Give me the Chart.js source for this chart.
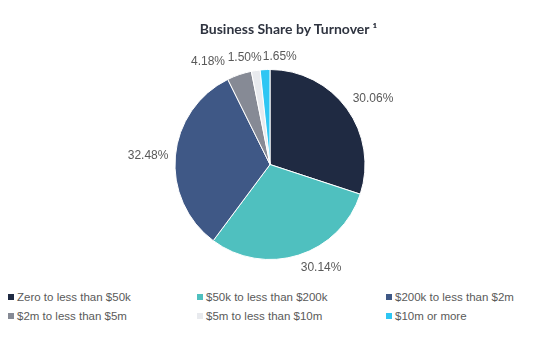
<!DOCTYPE html>
<html>
<head>
<meta charset="utf-8">
<script src="https://cdn.jsdelivr.net/npm/chart.js@4"></script>
<style>
  body { margin: 0; background: #fff; }
  #wrap { position: relative; width: 543px; height: 344px; }
  #box { position: absolute; left: 0; top: 0; width: 543px; height: 290px; }
  #title {
    position: absolute; left: 0; top: 20px; width: 577px; text-align: center;
    font: bold 14px Lato, sans-serif; color: #2f3440;
  }
  #legend {
    position: absolute; left: 8px; top: 291px; width: 535px;
    display: grid; grid-template-columns: 189px 189px 157px; row-gap: 7px;
    font: 11.5px "Liberation Sans", Arial, sans-serif; color: #5a5a5a;
  }
  #legend span.sw { display: inline-block; width: 6px; height: 6px; margin-right: 3px; vertical-align: 1px; }
</style>
</head>
<body>
<div id="wrap">
  <div id="box"><canvas id="pieChart"></canvas></div>
  <div id="title">Business Share by Turnover &sup1;</div>
  <div id="legend"></div>
</div>
<script>
// Turnover bands and their share of businesses (%)
var categories = [
    "Zero to less than $50k",
    "$50k to less than $200k",
    "$200k to less than $2m",
    "$2m to less than $5m",
    "$5m to less than $10m",
    "$10m or more"
];
var shares = [30.06, 30.14, 32.48, 4.18, 1.50, 1.65];
var sliceColors = ["#1f2a42", "#4fc0bf", "#3f5886", "#868a95", "#e8eaee", "#2ec6f3"];
// small horizontal shifts so the tiny slice labels don't collide
var labelShiftX = [0, 0, 0, -12, -10, 15];

// Percent labels outside each slice
Chart.register({
    id: 'outsideLabels',
    afterDraw: function(chart) {
        const ctx = chart.ctx;
        const meta = chart.getDatasetMeta(0);
        ctx.save();
        ctx.font = '12px "Liberation Sans", Arial, sans-serif';
        ctx.fillStyle = '#595959';
        meta.data.forEach((arc, i) => {
            const mid = (arc.startAngle + arc.endAngle) / 2;
            const r = arc.outerRadius + 7;
            const cx = Math.cos(mid), cy = Math.sin(mid);
            let x = arc.x + r * cx + labelShiftX[i];
            let y = arc.y + r * cy;
            ctx.textAlign = cx > 0.25 ? 'left' : (cx < -0.25 ? 'right' : 'center');
            ctx.textBaseline = cy < -0.3 ? 'bottom' : (cy > 0.3 ? 'top' : 'middle');
            ctx.fillText(shares[i].toFixed(2) + '%', x, y);
        });
        ctx.restore();
    }
});

var ctx = document.getElementById("pieChart").getContext("2d");
var pieChart = new Chart(ctx, {
    type: "pie",
    data: {
        labels: categories,
        datasets: [{
            data: shares,
            backgroundColor: sliceColors,
            borderColor: "#ffffff",
            borderWidth: 1
        }]
    },
    options: {
        responsive: true,
        maintainAspectRatio: false,
        animation: false,
        layout: { padding: { left: 0, right: 3, top: 69, bottom: 30 } },
        plugins: {
            legend: { display: false },
            tooltip: { enabled: false },
            title: { display: false }
        },
        hover: { mode: null }
    }
});

// HTML legend in three columns
var legendEl = document.getElementById("legend");
categories.forEach(function(name, i) {
    var item = document.createElement("div");
    var sw = document.createElement("span");
    sw.className = "sw";
    sw.style.background = sliceColors[i];
    item.appendChild(sw);
    item.appendChild(document.createTextNode(name));
    legendEl.appendChild(item);
});
</script>
</body>
</html>
